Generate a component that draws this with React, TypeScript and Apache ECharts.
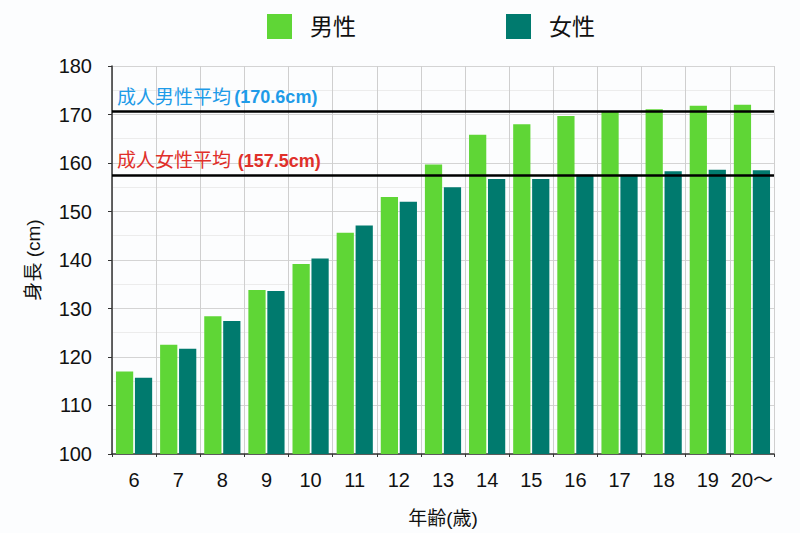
import React, { useEffect, useRef } from "react";
import * as echarts from "echarts";

const ages = ["6", "7", "8", "9", "10", "11", "12", "13", "14", "15", "16", "17", "18", "19", "20〜"];
const maleHeights = [117.0, 122.5, 128.4, 133.8, 139.2, 145.6, 153.0, 159.7, 165.8, 168.0, 169.7, 170.7, 171.1, 171.8, 172.0];
const femaleHeights = [115.7, 121.7, 127.4, 133.6, 140.3, 147.1, 152.0, 155.0, 156.7, 156.7, 157.6, 157.6, 158.3, 158.6, 158.5];
const adultMaleAvg = 170.6;
const adultFemaleAvg = 157.5;

const FONT = "'Liberation Sans', 'Noto Sans CJK JP', sans-serif";

export default function App() {
  const ref = useRef<HTMLDivElement>(null);
  useEffect(() => {
    document.body.style.margin = "0";
    const chart = echarts.init(ref.current!, null, { renderer: "svg" });
    chart.setOption({
      animation: false,
      backgroundColor: "#fcfdfe",
      textStyle: { fontFamily: FONT },
      legend: {
        left: 262,
        top: 9,
        itemWidth: 25,
        itemHeight: 25,
        itemGap: 150,
        icon: "rect",
        textStyle: { fontSize: 23, color: "#111", padding: [0, 0, 0, 13], fontFamily: FONT },
        data: ["男性", "女性"],
      },
      grid: { left: 112, right: 26, top: 66, bottom: 79, containLabel: false },
      xAxis: {
        type: "category",
        data: ages,
        name: "年齢(歳)",
        nameLocation: "middle",
        nameGap: 55,
        nameTextStyle: { fontSize: 19, color: "#111", fontFamily: FONT },
        axisLine: { lineStyle: { color: "#333", width: 1.5 } },
        axisTick: { show: true, length: 3, lineStyle: { color: "#333" } },
        axisLabel: { fontSize: 20, color: "#111", margin: 16, interval: 0, fontFamily: FONT },
        splitLine: { show: true, lineStyle: { color: "#cfcfcf", width: 1 } },
      },
      yAxis: {
        type: "value",
        min: 100,
        max: 180,
        interval: 10,
        name: "身長 (cm)",
        nameLocation: "middle",
        nameGap: 69,
        nameRotate: 90,
        nameTextStyle: { fontSize: 19, color: "#111", fontFamily: FONT },
        axisLine: { show: true, lineStyle: { color: "#333", width: 1.5 } },
        axisTick: { show: true, length: 4, lineStyle: { color: "#333" } },
        axisLabel: { fontSize: 20, color: "#111", margin: 20, fontFamily: FONT },
        splitLine: { show: true, lineStyle: { color: "#d4d4d4", width: 1 } },
        minorTick: { show: false, splitNumber: 2 },
        minorSplitLine: { show: true, lineStyle: { color: "#ececec", width: 1 } },
      },
      series: [
        {
          name: "男性",
          type: "bar",
          data: maleHeights,
          itemStyle: { color: "#5fd636" },
          barCategoryGap: "18%",
          barGap: "10%",
          markLine: {
            silent: true,
            symbol: "none",
            lineStyle: { color: "#000", width: 2.5, type: "solid" },
            data: [
              {
                yAxis: adultMaleAvg,
                label: {
                  show: true,
                  position: "insideStartTop",
                  distance: [5, 5],
                  formatter: "{a|成人男性平均} {b|(170.6cm)}",
                  rich: {
                    a: { fontSize: 19, color: "#1e9be8", fontFamily: FONT },
                    b: { fontSize: 18, color: "#1e9be8", fontWeight: "bold", fontFamily: FONT },
                  },
                },
              },
              {
                yAxis: adultFemaleAvg,
                label: {
                  show: true,
                  position: "insideStartTop",
                  distance: [5, 5],
                  formatter: "{a|成人女性平均}  {b|(157.5cm)}",
                  rich: {
                    a: { fontSize: 19, color: "#e0302a", fontFamily: FONT },
                    b: { fontSize: 18, color: "#e0302a", fontWeight: "bold", fontFamily: FONT },
                  },
                },
              },
            ],
          },
        },
        {
          name: "女性",
          type: "bar",
          data: femaleHeights,
          itemStyle: { color: "#007a6e" },
          barCategoryGap: "18%",
          barGap: "10%",
        },
      ],
    });
    return () => chart.dispose();
  }, []);
  return <div ref={ref} style={{ width: 800, height: 533 }} />;
}
